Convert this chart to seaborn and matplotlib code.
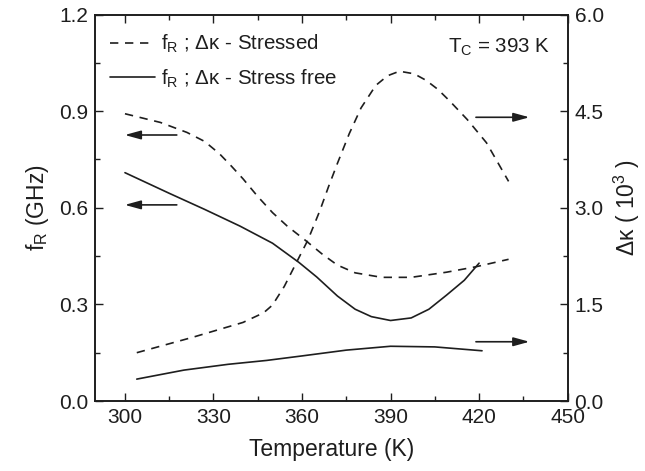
import matplotlib
matplotlib.use("Agg")
import matplotlib.pyplot as plt
import seaborn as sns
import pandas as pd
from matplotlib.lines import Line2D

# ---- data ----
t_fr_stressed = [300, 312, 321, 327, 332, 336, 340, 345, 350, 355, 361, 367, 372, 378, 387, 397, 409, 419, 430]
fr_stressed = [0.892, 0.865, 0.834, 0.806, 0.768, 0.730, 0.690, 0.635, 0.585, 0.543, 0.500, 0.455, 0.422, 0.398, 0.384, 0.384, 0.400, 0.417, 0.440]

t_fr_free = [300, 315, 327, 339, 350, 359, 365, 372, 378, 383.5, 390, 397, 403, 409, 415, 420]
fr_free = [0.709, 0.645, 0.595, 0.543, 0.490, 0.430, 0.385, 0.326, 0.285, 0.262, 0.250, 0.258, 0.285, 0.329, 0.375, 0.428]

t_dk_stressed = [304, 323, 340, 347, 350, 354, 357, 362, 366, 369, 372, 376, 380, 385, 389, 393, 398, 402, 406, 410, 416, 422.5, 430]
dk_stressed = [0.75, 0.99, 1.22, 1.37, 1.49, 1.78, 2.05, 2.50, 2.95, 3.33, 3.69, 4.15, 4.55, 4.90, 5.05, 5.12, 5.08, 4.98, 4.84, 4.66, 4.37, 4.01, 3.41]

t_dk_free = [304, 320, 335, 348, 360, 375, 390, 405, 421]
dk_free = [0.34, 0.48, 0.57, 0.63, 0.70, 0.79, 0.85, 0.84, 0.78]

x_ticks = [300, 330, 360, 390, 420, 450]
left_ticks = [0.0, 0.3, 0.6, 0.9, 1.2]
right_ticks = [0.0, 1.5, 3.0, 4.5, 6.0]

INK = '#1e1e1e'

sns.set_theme(style="ticks")
plt.rcParams['font.family'] = ['Liberation Sans', 'DejaVu Sans']
plt.rcParams['mathtext.default'] = 'regular'
plt.rcParams['xtick.direction'] = 'in'
plt.rcParams['ytick.direction'] = 'in'

fig = plt.figure(figsize=(6.45, 4.71), dpi=100)
ax = fig.add_axes([0.148, 0.1486, 0.732, 0.8205])
ax2 = ax.twinx()

lw = 1.2
dash = (5, 4)
df1 = pd.DataFrame({"T": t_fr_stressed, "v": fr_stressed})
df2 = pd.DataFrame({"T": t_fr_free, "v": fr_free})
df3 = pd.DataFrame({"T": t_dk_stressed, "v": dk_stressed})
df4 = pd.DataFrame({"T": t_dk_free, "v": dk_free})

sns.lineplot(data=df1, x="T", y="v", ax=ax, color=INK, lw=lw, sort=False).lines[-1].set_dashes(dash)
sns.lineplot(data=df2, x="T", y="v", ax=ax, color=INK, lw=lw, sort=False)
sns.lineplot(data=df3, x="T", y="v", ax=ax2, color=INK, lw=lw, sort=False).lines[-1].set_dashes(dash)
sns.lineplot(data=df4, x="T", y="v", ax=ax2, color=INK, lw=lw, sort=False)

ax.set_xlim(290, 450)
ax.set_ylim(0, 1.2)
ax2.set_ylim(0, 6.0)
ax.set_xticks(x_ticks)
ax.set_xticks([315, 345, 375, 405, 435], minor=True)
ax.set_yticks(left_ticks)
ax.set_yticklabels([f"{v:.1f}" for v in left_ticks])
ax.set_yticks([0.15, 0.45, 0.75, 1.05], minor=True)
ax2.set_yticks(right_ticks)
ax2.set_yticklabels([f"{v:.1f}" for v in right_ticks])
ax2.set_yticks([0.75, 2.25, 3.75, 5.25], minor=True)

FS_TICK = 15
ax.tick_params(axis='x', which='both', top=True, direction='in', labelsize=FS_TICK, colors=INK, pad=5)
ax.tick_params(axis='y', which='both', left=True, right=False, direction='in', labelsize=FS_TICK, colors=INK, pad=5)
ax.tick_params(which='major', length=6, width=1)
ax.tick_params(which='minor', length=3.5, width=1)
ax2.tick_params(axis='y', which='both', right=True, direction='in', labelsize=FS_TICK, colors=INK, pad=5)
ax2.tick_params(which='major', length=6, width=1)
ax2.tick_params(which='minor', length=3.5, width=1)

for a in (ax, ax2):
    for s in a.spines.values():
        s.set_color(INK)
        s.set_linewidth(1.2)

ax.set_xlabel("Temperature (K)", fontsize=16.5, color=INK, labelpad=8)
ax.set_ylabel("f$_R$ (GHz)", fontsize=16.5, color=INK, labelpad=6)
ax2.set_ylabel("Δκ ( 10$^3$ )", fontsize=16.5, color=INK, labelpad=6)

handles = [Line2D([0], [0], color=INK, lw=lw, dashes=dash),
           Line2D([0], [0], color=INK, lw=lw)]
leg = ax.legend(handles, ["f$_R$ ; Δκ - Stressed", "f$_R$ ; Δκ - Stress free"],
                loc='upper left', frameon=False, fontsize=14.8, handlelength=2.2,
                handletextpad=0.3, borderaxespad=0.3, labelspacing=0.6,
                bbox_to_anchor=(0.0, 0.99))
for t in leg.get_texts():
    t.set_color(INK)

ax.text(0.963, 0.915, "T$_C$ = 393 K", transform=ax.transAxes, ha='right', va='center',
        fontsize=14.8, color=INK)

arrow_kw = dict(arrowstyle='-|>,head_length=0.8,head_width=0.22', color=INK, lw=1.2)
ax.annotate("", xy=(299, 0.826), xytext=(318.5, 0.826), arrowprops=arrow_kw)
ax.annotate("", xy=(299, 0.609), xytext=(318.5, 0.609), arrowprops=arrow_kw)
ax.annotate("", xy=(438, 0.881), xytext=(418, 0.881), arrowprops=arrow_kw)
ax.annotate("", xy=(438, 0.184), xytext=(418, 0.184), arrowprops=arrow_kw)

fig.savefig("out.png", dpi=100)
